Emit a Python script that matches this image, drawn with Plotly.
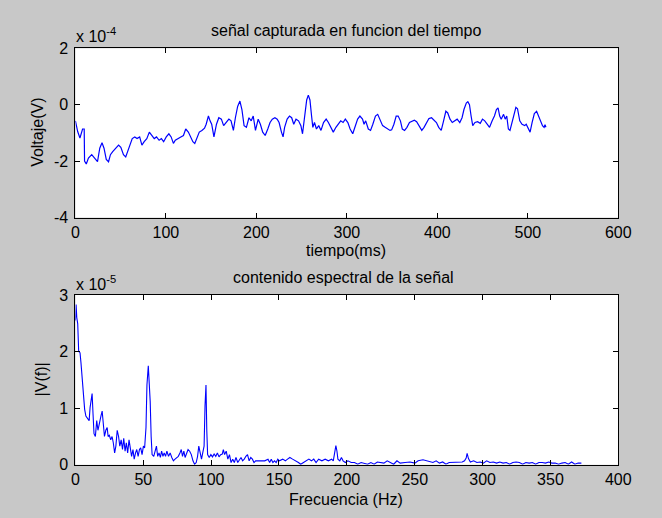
import plotly.graph_objects as go

# ---------------- data ----------------
# top: captured signal, time in ms, voltage in units of 1e-4 V
tiempo_ms = [0, 2.5, 5, 7.9, 9.7, 10.1, 12, 14.4, 18, 21.5, 24.4, 26.9, 29.4, 31.6, 34.1, 36.6,
             38.7, 41.2, 44.8, 47.7, 50.2, 53.1, 55.6, 58.5, 61, 62.8, 65.6, 68.1, 71, 73.5, 76,
             78.9, 81.7, 84.3, 87.1, 89.6, 92.5, 95, 97.5, 100.4, 103.3, 105.8, 108.3, 110.4, 113,
             116.5, 119.4, 121.9, 124.8, 127.3, 129.8, 131.9, 134.4, 136.9, 139.8, 142.7, 144.5,
             147, 148.8, 150.6, 153.1, 155.9, 158.5, 161.3, 163.8, 166.7, 169.6, 172, 174.6,
             176.8, 179.3, 181.8, 184, 186.4, 189, 191.8, 194.3, 196.5, 199, 202, 204.4, 207,
             209.7, 212.6, 215.1, 217.6, 220.5, 223, 225.1, 227.7, 229.5, 231.2, 234, 236.6, 239,
             241.3, 243.8, 246.6, 249.2, 251, 253.4, 255.6, 257.4, 259.2, 261, 262.4, 264.2,
             266.4, 268.9, 271.4, 274.2, 277.1, 279.6, 282.1, 285, 287.9, 290.4, 293.2, 295.8,
             298.3, 301.1, 303.6, 306.5, 309.4, 311.9, 314.4, 317.3, 319, 320.8, 323.7, 326.2,
             328.7, 331.6, 334.1, 337, 339.5, 342.3, 345.2, 347.7, 349.5, 352, 354.5, 356.7,
             359.2, 361.3, 363.8, 366.4, 369.2, 371.7, 374.6, 377.1, 380, 382.8, 385.3, 388.2,
             390.7, 393.6, 396.1, 399, 401.5, 404.3, 406.9, 409.4, 411.5, 414, 416.5, 419.4,
             421.9, 424.8, 427.3, 429.4, 432, 433.7, 435.5, 437.3, 439.1, 441.6, 444.5, 447.4,
             449.9, 452.4, 455.2, 457.7, 460.6, 463.1, 465.3, 467.1, 468.9, 470.6, 473.2, 475,
             476.7, 478.5, 480.3, 482.8, 485, 486.8, 488.6, 491.1, 493.6, 496.5, 498.2, 500.8,
             502.5, 504.7, 507.2, 509.7, 511.9, 514.4, 516.2, 518, 519, 520]
voltaje_e4 = [-0.57, -0.95, -1.18, -0.86, -0.86, -2.0, -2.1, -1.89, -1.77, -1.89, -2.02, -1.54,
              -1.35, -1.54, -1.94, -2.02, -1.77, -1.66, -1.54, -1.43, -1.51, -1.77, -1.85, -1.6,
              -1.37, -1.2, -1.14, -1.2, -1.14, -1.43, -1.31, -1.2, -0.97, -1.09, -1.2, -1.14,
              -1.26, -1.2, -1.31, -1.14, -1.03, -1.14, -1.37, -1.26, -1.2, -1.14, -1.09, -0.86,
              -0.97, -1.14, -1.31, -1.37, -1.14, -0.97, -0.91, -0.83, -0.69, -0.4, -0.57, -0.69,
              -1.14, -0.69, -0.46, -0.51, -0.74, -0.63, -0.51, -0.57, -0.91,
              -0.46, -0.06, 0.13, -0.17, -0.74, -0.8, -0.46, -0.57, -0.4, -0.91, -0.51, -0.69,
              -0.97, -1.09, -0.86, -0.63, -0.51, -0.46, -0.51, -0.63, -0.97, -1.14, -0.8, -0.51,
              -0.4, -0.46, -0.69, -0.51, -0.57, -0.74, -1.03, -0.46, 0.17, 0.34, 0.17, -0.4,
              -0.8, -0.63, -0.86, -0.74, -0.91, -0.63, -0.51, -0.63, -0.8, -0.97, -0.8, -0.69,
              -0.57, -0.63, -0.51, -0.63, -0.86, -1.03, -0.74, -0.51, -0.4, -0.51, -0.69, -0.57,
              -0.86, -0.91, -0.69, -0.4, -0.34, -0.57, -0.74, -0.8, -0.86, -0.91, -0.89, -0.69,
              -0.4, -0.4, -0.57, -0.86, -0.91, -0.8, -0.63, -0.6, -0.55, -0.6, -0.74, -0.91,
              -0.8, -0.63, -0.49, -0.46, -0.55, -0.63, -0.8, -0.91, -0.57, -0.23, -0.29, -0.51,
              -0.63, -0.57, -0.51, -0.63, -0.46, -0.17, 0.06, 0.11, 0.0, -0.4, -0.74, -0.63,
              -0.6, -0.66, -0.51, -0.57, -0.69, -0.8, -0.57, -0.4, -0.17, -0.11, -0.4, -0.51,
              -0.34, -0.51, -0.4, -0.86, -0.91, -0.57, -0.23, -0.09, -0.14, -0.57, -0.69, -0.74,
              -0.69, -0.86, -0.97, -0.63, -0.31, -0.23, -0.4, -0.63, -0.74, -0.8, -0.71, -0.8]

# bottom: spectrum, frequency in Hz, magnitude in units of 1e-5
frecuencia_hz = [0, 0.5, 1, 1.7, 2.4, 3.4, 4.1, 5.1, 6.0, 6.8, 7.7, 8.9, 10.1, 10.8, 11.6, 12.3,
                 13, 13.7, 14.7, 15.7, 16.6, 17.6, 18.8, 19.7, 20.5, 21.4, 22.4, 23.4, 24.1, 25,
                 26, 27, 27.9, 28.9, 29.8, 30.8, 31.8, 32.7, 33.7, 34.7, 35.6, 36.6, 37.5, 38.5,
                 39.5, 40.4, 41.4, 42.4, 43.3, 44.3, 45.2, 46.2, 47.2, 48.1, 49.1, 50.1, 51, 52,
                 52.7, 53.7, 54.4, 55.1, 55.8, 56.5, 57.7, 58.9, 59.7, 60.6, 61.6, 62.6, 63.5,
                 64.5, 65.4, 66.4, 67.4, 68.6, 69.8, 71, 72.2, 73.4, 74.6, 75.8, 77, 78, 78.9,
                 79.9, 80.8, 81.8, 83, 84.2, 85.4, 86.6, 87.8, 89, 90, 90.9, 91.9, 92.9, 93.8,
                 94.8, 95.5, 96.2, 96.8, 97.4, 98.6, 99.8, 101, 102.2, 103.4, 104.6, 105.8, 107,
                 108.2, 109, 109.9, 111.1, 112.3, 113.5, 114.7, 115.9, 117.1, 118.3, 119.6, 120.8,
                 122, 123.2, 124.4, 125.6, 126.8, 128, 129.2, 130.4, 131.6, 132.8, 134.7, 137.1,
                 139.5, 141.9, 143.1, 144.3, 145.5, 146.7, 147.9, 149.1, 150.3, 152.7, 154.7,
                 156.3, 158, 160, 162.4, 164.3, 166, 167.9, 169.6, 172, 173.9, 175.6, 177.3,
                 179.2, 181.6, 184, 186.4, 188.8, 190, 191.2, 191.9, 192.7, 193.4, 194.8, 196,
                 197.2, 198.9, 200.8, 203.2, 205.6, 208, 210.5, 212.9, 215.3, 217.7, 220.1, 222.5,
                 224.9, 227.3, 229.7, 232.1, 234.5, 236.9, 239.3, 242.9, 246.5, 250.1, 252.5,
                 256.1, 259.8, 263.4, 265.8, 268.2, 270.6, 273, 275.4, 277.8, 281.4, 285, 286.7,
                 287.9, 288.6, 289.6, 291, 293.4, 295.8, 298.2, 300.6, 303, 305.4, 307.9, 310.3,
                 312.7, 315.1, 317.5, 319.9, 322.3, 324.7, 327.1, 329.5, 331.9, 334.3, 336.7,
                 339.1, 341.5, 343.9, 346.3, 348.7, 351.1, 353.5, 356, 358.4, 360.8, 363.2, 365.6,
                 368, 370.4, 372.8]
magnitud_e5 = [2.55, 2.83, 2.6, 2.49, 2.0, 1.98, 1.8, 1.46, 1.18, 0.98, 0.86, 0.81, 0.78, 1.01,
               1.15, 1.26, 0.89, 0.55, 0.5, 0.78, 0.61, 0.75, 0.86, 0.95, 0.66, 0.5, 0.61, 0.66,
               0.5, 0.52, 0.44, 0.5, 0.39, 0.21, 0.33, 0.61, 0.5, 0.33, 0.44, 0.27, 0.47, 0.24,
               0.39, 0.21, 0.44, 0.33, 0.15, 0.27, 0.1, 0.21, 0.27, 0.15, 0.27, 0.3, 0.18, 0.33,
               0.3, 0.66, 1.41, 1.75, 1.52, 1.12, 0.5, 0.18, 0.15, 0.24, 0.33, 0.15, 0.21, 0.13,
               0.24, 0.15, 0.21, 0.15, 0.24, 0.15, 0.21, 0.13, 0.07, 0.1, 0.13, 0.15, 0.21, 0.27,
               0.15, 0.24, 0.13, 0.21, 0.27, 0.24, 0.18, 0.07, 0.01, 0.04, 0.15, 0.33, 0.21, 0.1,
               0.21, 0.33, 1.05, 1.41, 0.6, 0.18, 0.13, 0.18, 0.14, 0.19, 0.15, 0.21, 0.14, 0.18,
               0.19, 0.27, 0.18, 0.24, 0.1, 0.18, 0.04, 0.1, 0.04, 0.13, 0.04, 0.1, 0.13, 0.07,
               0.1, 0.15, 0.18, 0.07, 0.13, 0.1, 0.04, 0.07, 0.07, 0.07, 0.07, 0.1, 0.04, 0.1,
               0.04, 0.07, 0.04, 0.1, 0.07, 0.1, 0.07, 0.1, 0.13, 0.1, 0.07, 0.04, 0.01, 0.04,
               0.07, 0.1, 0.07, 0.1, 0.04, 0.1, 0.07, 0.1, 0.07, 0.1, 0.07, 0.24, 0.34, 0.24,
               0.1, 0.07, 0.13, 0.07, 0.04, 0.07, 0.04, 0.04, 0.01, 0.04, 0.03, 0.01, 0.04, 0.01,
               0.05, 0.04, 0.03, 0.07, 0.04, 0.01, 0.07, 0.03, 0.04, 0.05, 0.03, 0.07, 0.09,
               0.07, 0.04, 0.07, 0.03, 0.05, 0.01, 0.04, 0.04, 0.05, 0.05, 0.07, 0.12, 0.2, 0.11,
               0.05, 0.07, 0.04, 0.05, 0.03, 0.07, 0.04, 0.05, 0.03, 0.05, 0.03, 0.04, 0.01,
               0.04, 0.05, 0.04, 0.01, 0.04, 0.03, 0.04, 0.01, 0.04, 0.04, 0.03, 0.05, 0.03,
               0.03, 0.01, 0.03, 0.04, 0.01, 0.05, 0.01, 0.03, 0.03]

top_xticks = [0, 100, 200, 300, 400, 500, 600]
top_yticks = [-4, -2, 0, 2]
bot_xticks = [0, 50, 100, 150, 200, 250, 300, 350, 400]
bot_yticks = [0, 1, 2, 3]

# ---------------- figure ----------------
W, H = 662, 518
FONT = "Liberation Sans, Arial, sans-serif"
BG = "#c8c8c8"

def px(x):
    return x / W

def py(y):
    return 1 - y / H

fig = go.Figure()
fig.add_trace(go.Scatter(x=tiempo_ms, y=[v * 1e-4 for v in voltaje_e4], mode="lines",
                         line=dict(color="#0000ff", width=1.2), xaxis="x", yaxis="y",
                         showlegend=False))
fig.add_trace(go.Scatter(x=frecuencia_hz, y=[v * 1e-5 for v in magnitud_e5], mode="lines",
                         line=dict(color="#0000ff", width=1.1), xaxis="x2", yaxis="y2",
                         showlegend=False))

axis_common = dict(showgrid=False, zeroline=False, showline=True, linecolor="#000000",
                   linewidth=1, mirror="allticks", ticks="inside", ticklen=5, tickwidth=1,
                   tickcolor="#000000", tickfont=dict(family=FONT, size=16, color="#000000"))

fig.update_layout(
    width=W, height=H,
    margin=dict(l=0, r=0, t=0, b=0),
    paper_bgcolor=BG, plot_bgcolor="#ffffff",
    font=dict(family=FONT, size=16, color="#000000"),
    xaxis=dict(domain=[px(73.3), px(630.5)], range=[0, 600], tickvals=top_xticks,
               ticktext=[str(v) for v in top_xticks], anchor="y", **axis_common),
    yaxis=dict(domain=[py(216.7), py(41.7)], range=[-4e-4, 2e-4],
               tickvals=[v * 1e-4 for v in top_yticks], ticktext=[str(v) for v in top_yticks],
               anchor="x", ticklabelstandoff=3, **axis_common),
    xaxis2=dict(domain=[px(73.3), px(630.5)], range=[0, 400], tickvals=bot_xticks,
                ticktext=[str(v) for v in bot_xticks], anchor="y2", **axis_common),
    yaxis2=dict(domain=[py(472.3), py(296.7)], range=[0, 3e-5],
                tickvals=[v * 1e-5 for v in bot_yticks], ticktext=[str(v) for v in bot_yticks],
                anchor="x2", ticklabelstandoff=3, **axis_common),
)

ann = []
def text(x, y, s, **kw):
    d = dict(x=px(x), y=py(y), xref="paper", yref="paper", text=s, showarrow=False,
             font=dict(family=FONT, size=16, color="#000000"), xanchor="center",
             yanchor="middle")
    d.update(kw)
    ann.append(d)

text(351.5, 23, "señal capturada en funcion del tiempo")
text(72, 28, "x 10<sup>-4</sup>", xanchor="left")
text(351.5, 251, "tiempo(ms)")
text(35, 129, "Voltaje(V)", textangle=-90)
text(348.5, 279, "contenido espectral de la señal")
text(72, 284, "x 10<sup>-5</sup>", xanchor="left")
text(351.5, 508, "Frecuencia (Hz)")
text(38, 384, "|V(f)|", textangle=-90)

fig.update_layout(annotations=ann)
fig.write_html("out.html")
